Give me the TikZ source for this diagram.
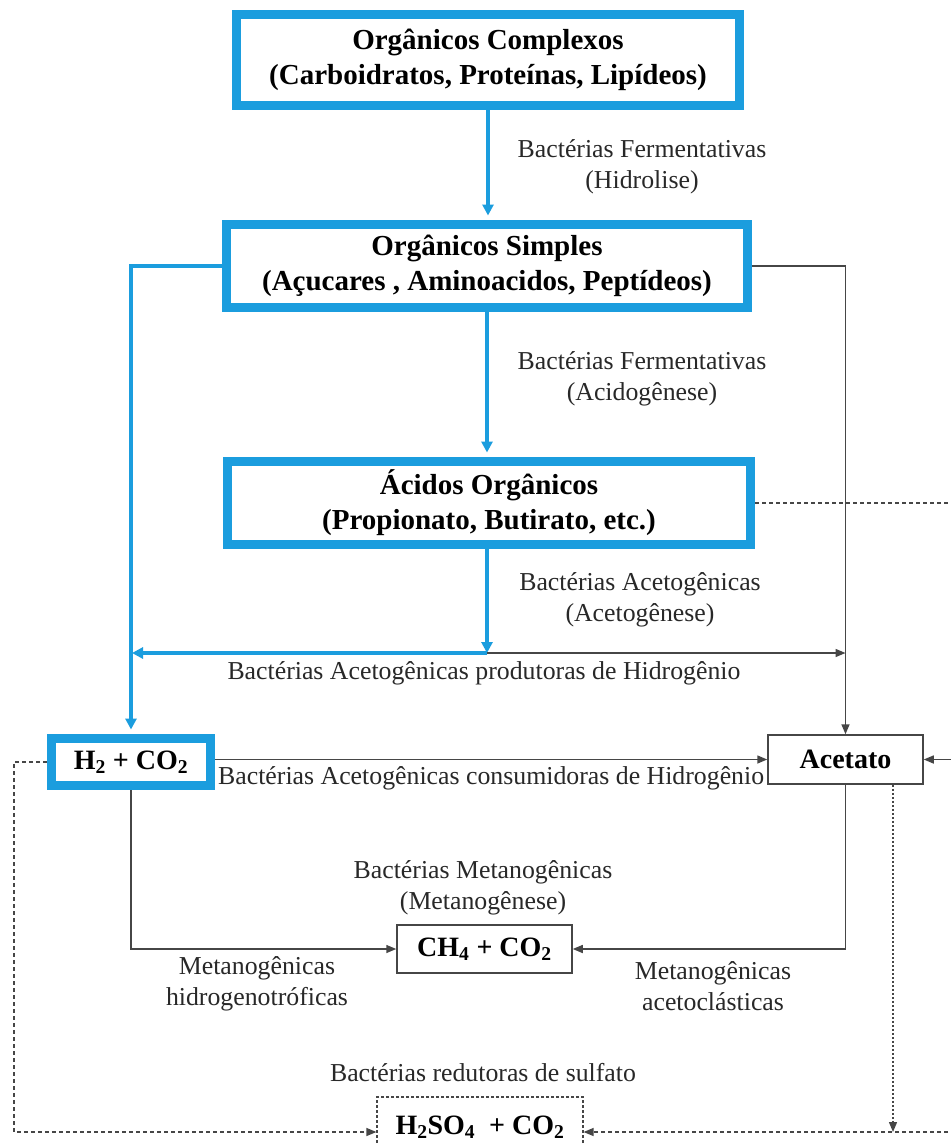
\documentclass[tikz,border=0pt]{standalone}
\usepackage{fontspec}
\setmainfont{Liberation Serif}
\usetikzlibrary{arrows.meta}
\definecolor{bx}{RGB}{27,157,222}
\definecolor{ln}{RGB}{70,70,70}
\definecolor{tx}{RGB}{40,40,40}
\begin{document}
\begin{tikzpicture}[x=1pt,y=-1pt,
 bluebox/.style={draw=bx,line width=9pt,inner sep=0pt,align=center,font=\fontsize{29}{35}\selectfont\bfseries},
 thinbox/.style={draw=ln,line width=1.5pt,inner sep=0pt,align=center,font=\fontsize{28}{35}\selectfont\bfseries},
 lbl/.style={align=center,text=tx,font=\fontsize{25.8}{31}\selectfont,inner sep=0pt},
 bl/.style={draw=bx,line width=4.5pt},
 blarr/.style={bl,-{Triangle[length=11pt,width=11pt]}},
 gl/.style={draw=ln,line width=1.5pt},
 garr/.style={gl,-{Triangle[length=10pt,width=8pt]}},
 dl/.style={draw=ln,line width=1.3pt,dash pattern=on 4pt off 3pt},
 darr/.style={dl,-{Triangle[length=10pt,width=8pt]}},
 dotarr/.style={draw=ln,line width=1.3pt,dash pattern=on 2pt off 2pt,-{Triangle[length=10pt,width=8pt]}},
]
\useasboundingbox (0,0) rectangle (951,1144);
\clip (0,0) rectangle (951,1144);
\fill[white] (0,0) rectangle (951,1144);

% boxes
\node[bluebox,minimum width=503pt,minimum height=91pt] (oc) at (488,60) {Orgânicos Complexos\\(Carboidratos, Proteínas, Lipídeos)};
\node[bluebox,minimum width=521pt,minimum height=83pt] (os) at (487,266) {Orgânicos Simples\\(Açucares , Aminoacidos, Peptídeos)};
\node[bluebox,minimum width=523pt,minimum height=83pt] (ao) at (489,503) {Ácidos Orgânicos\\(Propionato, Butirato, etc.)};
\node[bluebox,font=\fontsize{28}{35}\selectfont\bfseries,minimum width=159pt,minimum height=47pt] (h2) at (131,762) {H\textsubscript{2} + CO\textsubscript{2}};
\node[thinbox,minimum width=155pt,minimum height=49pt] (ac) at (845.5,759.5) {Acetato};
\node[thinbox,minimum width=175pt,minimum height=48pt] (ch) at (484.5,949) {CH\textsubscript{4} + CO\textsubscript{2}};
\node[thinbox,line width=1.2pt,dash pattern=on 3pt off 2pt,minimum width=206pt,minimum height=60pt] (hs) at (480,1127) {H\textsubscript{2}SO\textsubscript{4}\ \ + CO\textsubscript{2}};

% coordinates
\coordinate (J) at (487,653);
\coordinate (JL) at (132,653);
\coordinate (JR) at (845.5,653);
\coordinate (RE) at (962,760);
\coordinate (LL) at (14,1132);
\coordinate (D) at (893,1132);
\coordinate (RB) at (962,1132);

% blue connectors
\draw[blarr,shorten >=4.5pt] (oc.south) -- (oc.south |- os.north);
\draw[blarr,shorten >=4.5pt] (os.south) -- (os.south |- ao.north);
\draw[blarr] (J |- ao.south) -- (J);
\draw[blarr] (J) -- (JL);
\draw[blarr,shorten >=4.5pt] (os.west) -| (h2.north);

% grey connectors
\draw[garr] (J) -- (JR);
\draw[garr] (os.east) -| (ac.north);
\draw[garr] (h2.east |- ac.west) -- (ac.west);
\draw[garr] (RE |- ac.east) -- (ac.east);
\draw[garr] (ac.south) |- (ch.east);
\draw[garr] (h2.south) |- (ch.west);

% dashed connectors
\draw[dl] (ao.east) -- (ao.east -| RE) -- (RB);
\draw[darr] (h2.west) -| (LL) -- (LL -| hs.west);
\draw[dotarr] (D |- ac.south) -- (D);
\draw[darr] (RB) -- (RB -| hs.east);

% labels
\node[lbl] (l1) at (642,167) {Bactérias Fermentativas\\(Hidrolise)};
\node[lbl] (l2) at (642,379) {Bactérias Fermentativas\\(Acidogênese)};
\node[lbl] (l3) at (640,600) {Bactérias Acetogênicas\\(Acetogênese)};
\node[lbl] (l4) at (484,673) {Bactérias Acetogênicas produtoras de Hidrogênio};
\node[lbl,anchor=west] (l5) at (218,778) {Bactérias Acetogênicas consumidoras de Hidrogênio};
\node[lbl] (l6) at (483,888) {Bactérias Metanogênicas\\(Metanogênese)};
\node[lbl] (l7) at (257,984) {Metanogênicas\\hidrogenotróficas};
\node[lbl] (l8) at (713,986) {Metanogênicas\\acetoclásticas};
\node[lbl] (l9) at (483,1073) {Bactérias redutoras de sulfato};
\end{tikzpicture}
\end{document}
